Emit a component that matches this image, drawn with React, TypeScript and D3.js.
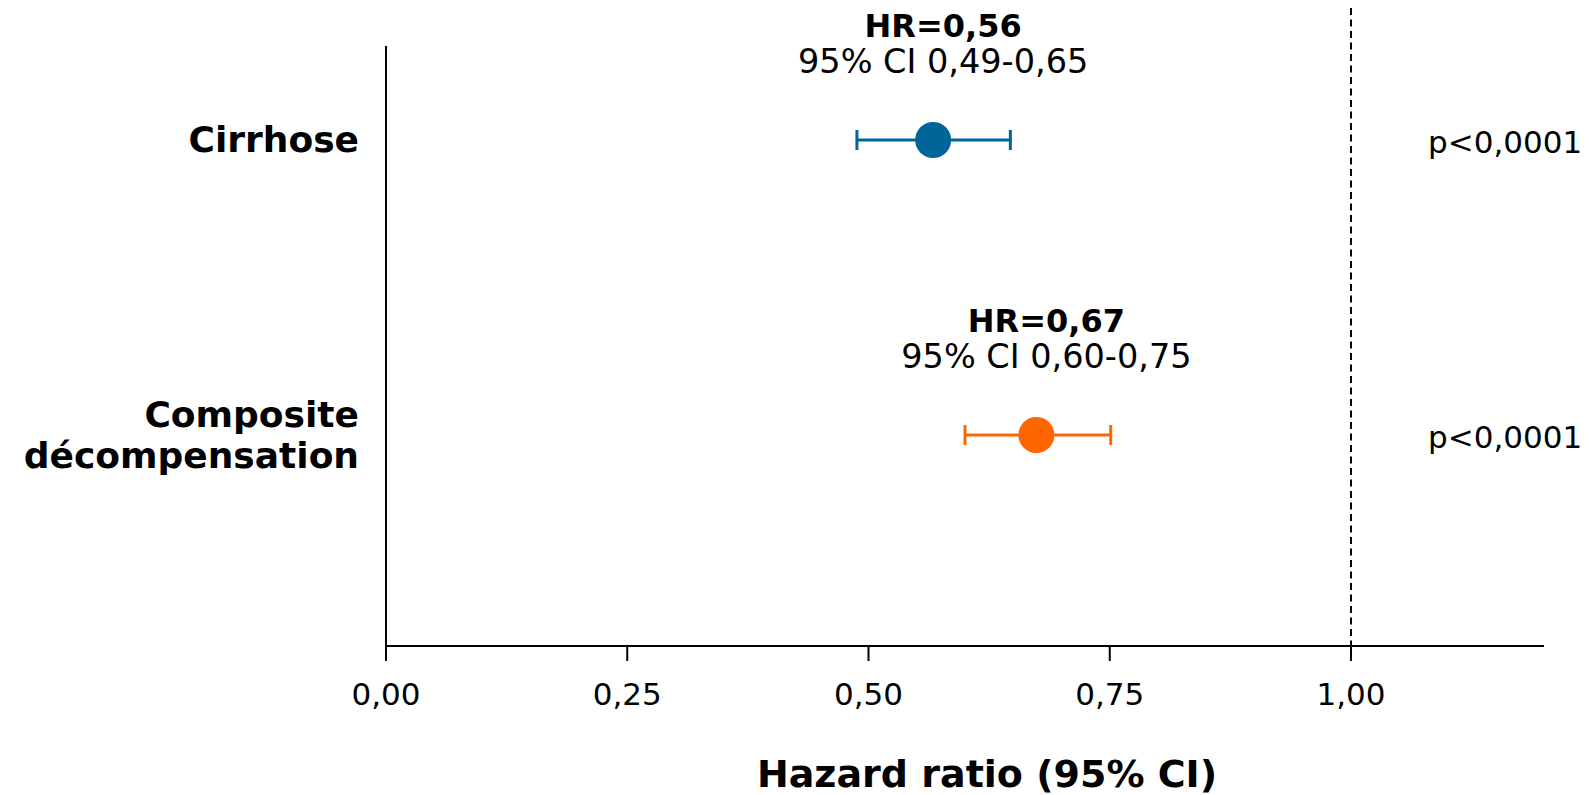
import React from "react";
import * as d3 from "d3";

// forest plot data
const categories = ["Cirrhose", "Composite décompensation"];
const categoryLines = [["Cirrhose"], ["Composite", "décompensation"]];
const hr = [0.567, 0.674];
const ciLow = [0.488, 0.6];
const ciHigh = [0.647, 0.751];
const hrLabels = ["HR=0,56", "HR=0,67"];
const ciLabels = ["95% CI 0,49-0,65", "95% CI 0,60-0,75"];
const pLabels = ["p<0,0001", "p<0,0001"];
const colors = ["#006699", "#ff6600"];
const xTicks = [0, 0.25, 0.5, 0.75, 1.0];
const xTickLabels = ["0,00", "0,25", "0,50", "0,75", "1,00"];
const refLine = 1.0;
const xTitle = "Hazard ratio (95% CI)";

const W = 1589;
const H = 795;
const FONT = "'DejaVu Sans', Verdana, sans-serif";

export default function App() {
  const x = d3.scaleLinear().domain([0, 1.2]).range([386, 1544]);
  const y = d3.scalePoint<string>().domain(categories).range([140, 435]);
  const axisY = 646;
  const axisTop = 46;

  return (
    <svg
      width={W}
      height={H}
      style={{ position: "fixed", left: 0, top: 0, background: "#fff" }}
      fontFamily={FONT}
    >
      {/* reference line at HR=1 */}
      <line
        x1={x(refLine)}
        x2={x(refLine)}
        y1={8}
        y2={axisY}
        stroke="#000"
        strokeWidth={2}
        strokeDasharray="7,4.5"
      />

      {/* axes */}
      <line x1={x(0)} x2={x(0)} y1={axisTop} y2={axisY} stroke="#000" strokeWidth={2} />
      <line x1={x(0)} x2={x(1.2)} y1={axisY} y2={axisY} stroke="#000" strokeWidth={2} />
      {xTicks.map((t, i) => (
        <g key={t}>
          <line x1={x(t)} x2={x(t)} y1={axisY} y2={axisY + 15} stroke="#000" strokeWidth={2} />
          <text x={x(t)} y={705} textAnchor="middle" fontSize={31} fill="#000">
            {xTickLabels[i]}
          </text>
        </g>
      ))}
      <text x={987} y={787} textAnchor="middle" fontSize={38} fontWeight="bold" fill="#000">
        {xTitle}
      </text>

      {categories.map((c, i) => {
        const cy = y(c) as number;
        const lines = categoryLines[i];
        const lineGap = 41;
        const firstBase = cy + 12 - ((lines.length - 1) * lineGap) / 2;
        return (
          <g key={c}>
            <text textAnchor="end" fontSize={36} fontWeight="bold" fill="#000">
              {lines.map((l, j) => (
                <tspan key={j} x={359} y={firstBase + j * lineGap}>
                  {l}
                </tspan>
              ))}
            </text>

            {/* confidence interval */}
            <line x1={x(ciLow[i])} x2={x(ciHigh[i])} y1={cy} y2={cy} stroke={colors[i]} strokeWidth={3} />
            <line x1={x(ciLow[i])} x2={x(ciLow[i])} y1={cy - 10} y2={cy + 10} stroke={colors[i]} strokeWidth={3} />
            <line x1={x(ciHigh[i])} x2={x(ciHigh[i])} y1={cy - 10} y2={cy + 10} stroke={colors[i]} strokeWidth={3} />
            <circle cx={x(hr[i])} cy={cy} r={18} fill={colors[i]} />

            <text x={x(hr[i]) + 10} y={cy - 103} textAnchor="middle" fontSize={32} fontWeight="bold" fill="#000">
              {hrLabels[i]}
            </text>
            <text x={x(hr[i]) + 10} y={cy - 67} textAnchor="middle" fontSize={33.5} fill="#000">
              {ciLabels[i]}
            </text>

            <text x={1428} y={cy + 13} fontSize={31} fill="#000">
              {pLabels[i]}
            </text>
          </g>
        );
      })}
    </svg>
  );
}
